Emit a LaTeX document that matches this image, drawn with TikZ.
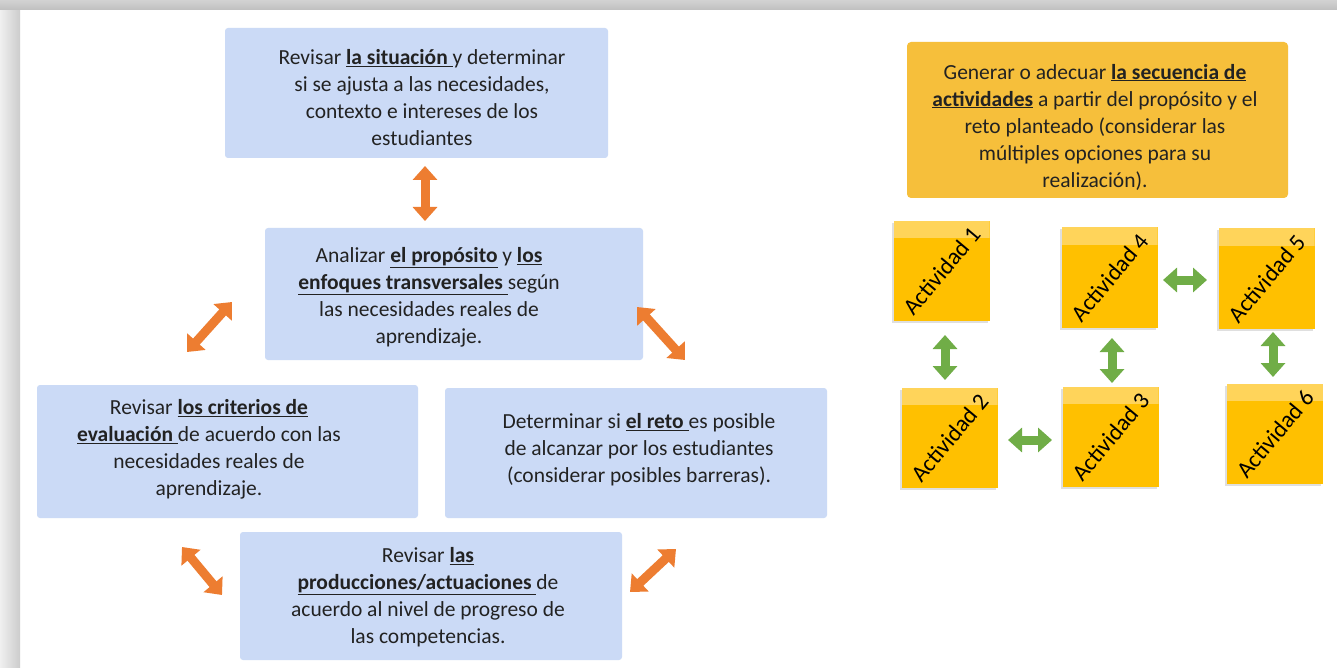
\documentclass[tikz,border=0pt]{standalone}
\usepackage{fontspec}
\setmainfont{Carlito}
\usetikzlibrary{arrows.meta,shadows}
\definecolor{boxblue}{HTML}{CBDAF6}
\definecolor{boxyellow}{HTML}{F6BF3B}
\definecolor{sticky}{HTML}{FFC000}
\definecolor{stickytop}{HTML}{FFD45A}
\definecolor{orangeA}{HTML}{ED7D31}
\definecolor{greenA}{HTML}{70AD47}
\definecolor{txtc}{HTML}{222222}
\tikzset{
  bluebox/.style={fill=boxblue, draw=none, rounded corners=3pt, inner sep=0pt},
  yellowbox/.style={fill=boxyellow, draw=none, rounded corners=4pt, inner sep=0pt},
  txt/.style={align=center, text=txtc, inner sep=0pt, font=\fontsize{21.5}{27}\selectfont},
  note/.style={fill=sticky, draw=none, inner sep=0pt, minimum width=96pt, minimum height=100pt,
    drop shadow={opacity=0.25, shadow xshift=-2pt, shadow yshift=-2pt},
    path picture={\fill[stickytop] (path picture bounding box.north west) rectangle ([yshift=-17pt]path picture bounding box.north east);}},
  notelabel/.style={rotate=50, text=black, inner sep=0pt, font=\fontsize{23.5}{26}\selectfont},
  oarrow/.style={draw=orangeA, line width=9pt, {Triangle[width=24pt,length=14pt]}-{Triangle[width=24pt,length=14pt]}},
  garrow/.style={draw=greenA, line width=9pt, {Triangle[width=24pt,length=14pt]}-{Triangle[width=24pt,length=14pt]}}
}
\newcommand{\ub}[1]{\underline{\textbf{#1}}}
\begin{document}
\begin{tikzpicture}[x=1pt,y=-1pt]
\useasboundingbox (0,0) rectangle (1337,668);
\fill[white] (0,0) rectangle (1337,668);
% frame
\shade[left color=gray!12, right color=gray!40] (0,0) rectangle (20,668);
\shade[top color=gray!35, bottom color=gray!50] (0,0) rectangle (1337,10);

% blue boxes
\node[bluebox, minimum width=383pt, minimum height=130pt] (b1) at (416.5,93) {};
\node[txt] (t1) at (422,97.5) {Revisar \ub{la situación\ }y determinar\\si se ajusta a las necesidades,\\contexto e intereses de los\\estudiantes};

\node[bluebox, minimum width=378pt, minimum height=132pt] (b2) at (454,294) {};
\node[txt] (t2) at (429,297) {Analizar \ub{el propósito} y \ub{los}\\\ub{enfoques transversales\ }según\\las necesidades reales de\\aprendizaje.};

\node[bluebox, minimum width=381pt, minimum height=133pt] (b3) at (227.5,451.5) {};
\node[txt] (t3) at (209,449) {Revisar \ub{los criterios de}\\\ub{evaluación\ }de acuerdo con las\\necesidades reales de\\aprendizaje.};

\node[bluebox, minimum width=382pt, minimum height=130pt] (b4) at (636,453) {};
\node[txt] (t4) at (639,450) {Determinar si \ub{el reto\ }es posible\\de alcanzar por los estudiantes\\(considerar posibles barreras).};

\node[bluebox, minimum width=382pt, minimum height=128pt] (b5) at (431,596) {};
\node[txt] (t5) at (428,597) {Revisar \ub{las}\\\ub{producciones/actuaciones\ }de\\acuerdo al nivel de progreso de\\las competencias.};

% yellow box
\node[yellowbox, minimum width=381pt, minimum height=156pt] (y1) at (1097.5,120) {};
\node[txt] (ty) at (1095,127) {Generar o adecuar \ub{la secuencia de}\\\ub{actividades} a partir del propósito y el\\reto planteado (considerar las\\múltiples opciones para su\\realización).};

% orange arrows
\coordinate (o1a) at (425,166); \coordinate (o1b) at (425,221);
\coordinate (o2a) at (187,352); \coordinate (o2b) at (232,302);
\coordinate (o3a) at (637,307); \coordinate (o3b) at (685,360);
\coordinate (o4a) at (182,547); \coordinate (o4b) at (222,595);
\coordinate (o5a) at (630,592); \coordinate (o5b) at (676,549);
\draw[oarrow] (o1a) -- (o1b);
\draw[oarrow] (o2a) -- (o2b);
\draw[oarrow] (o3a) -- (o3b);
\draw[oarrow] (o4a) -- (o4b);
\draw[oarrow] (o5a) -- (o5b);

% sticky notes
\node[note] (a1) at (941.5,271) {};
\node[note] (a4) at (1109.5,277.5) {};
\node[note] (a5) at (1266.5,278.5) {};
\node[note] (a2) at (949.5,438) {};
\node[note] (a3) at (1110.5,437) {};
\node[note] (a6) at (1275,434) {};
\node[notelabel] (l1) at (a1) {Actividad 1};
\node[notelabel] (l4) at (a4) {Actividad 4};
\node[notelabel] (l5) at (a5) {Actividad 5};
\node[notelabel] (l2) at (a2) {Actividad 2};
\node[notelabel] (l3) at (a3) {Actividad 3};
\node[notelabel] (l6) at (a6) {Actividad 6};

% green arrows
\coordinate (g1a) at (945,335); \coordinate (g1b) at (945,380);
\coordinate (g2a) at (1112,338); \coordinate (g2b) at (1112,383);
\coordinate (g3a) at (1273,332); \coordinate (g3b) at (1273,377);
\coordinate (g4a) at (1163,280); \coordinate (g4b) at (1207,280);
\coordinate (g5a) at (1008,440); \coordinate (g5b) at (1052,440);
\draw[garrow] (g1a) -- (g1b);
\draw[garrow] (g2a) -- (g2b);
\draw[garrow] (g3a) -- (g3b);
\draw[garrow] (g4a) -- (g4b);
\draw[garrow] (g5a) -- (g5b);
\end{tikzpicture}
\end{document}
